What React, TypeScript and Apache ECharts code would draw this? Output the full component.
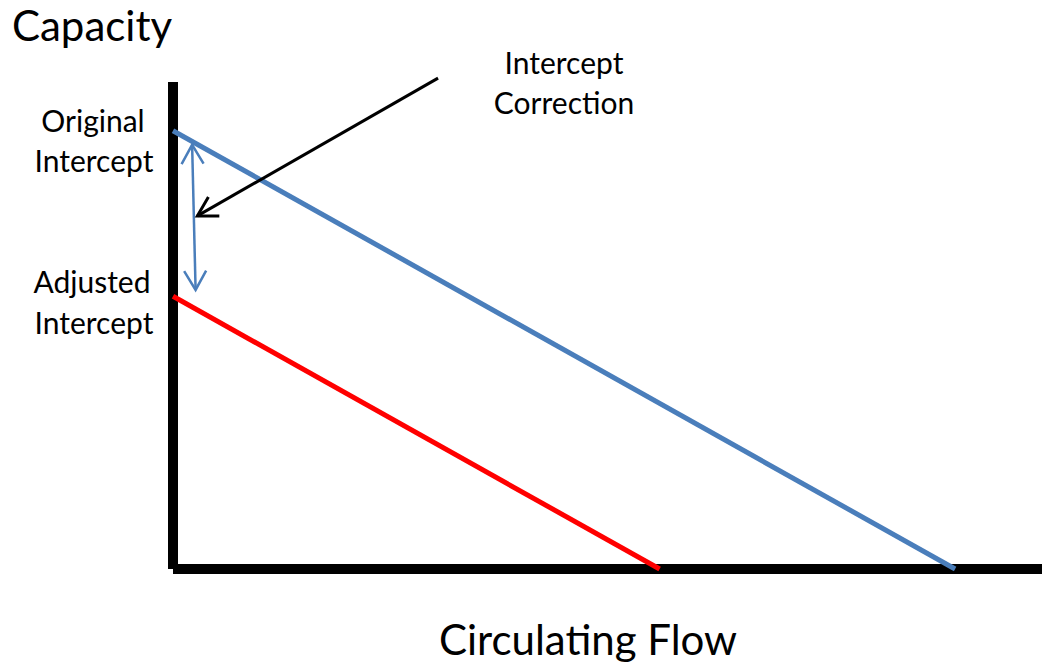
import React, { useEffect, useRef } from "react";
import * as echarts from "echarts";

// Original capacity line (flow, capacity)
const originalFlow = [0, 90];
const originalCapacity = [90, 0];
// Adjusted capacity line
const adjustedFlow = [0, 56];
const adjustedCapacity = [56, 0];
// Double-headed "correction" arrow: [x1, y1, x2, y2]
const correctionArrow = [2.2, 87.1, 2.6, 57.3];
// Pointer arrow from the label to the correction arrow: [x1, y1, x2, y2]
const pointerArrow = [30.5, 100.8, 2.8, 72.5];

const FONT = "Lato, 'Open Sans', sans-serif";
const BLUE = "#4A7EBB";
const RED = "#FF0000";

function chevron(tip: number[], from: number[], len: number, color: string, width: number) {
  const dx = from[0] - tip[0];
  const dy = from[1] - tip[1];
  const d = Math.sqrt(dx * dx + dy * dy) || 1;
  const ux = dx / d;
  const uy = dy / d;
  const a = (30 * Math.PI) / 180;
  const c = Math.cos(a);
  const s = Math.sin(a);
  const p1 = [tip[0] + len * (ux * c - uy * s), tip[1] + len * (ux * s + uy * c)];
  const p2 = [tip[0] + len * (ux * c + uy * s), tip[1] + len * (-ux * s + uy * c)];
  return {
    type: "polyline",
    shape: { points: [p1, tip, p2] },
    style: { stroke: color, lineWidth: width, fill: "none", lineJoin: "miter" },
  };
}

export default function App() {
  const ref = useRef<HTMLDivElement>(null);
  useEffect(() => {
    document.body.style.margin = "0";
    const chart = echarts.init(ref.current!, null, { renderer: "svg" });
    const arrowData = [
      { value: correctionArrow, color: BLUE, width: 2.5, both: true },
      { value: pointerArrow, color: "#000000", width: 3, both: false },
    ];
    const label = (text: string, x: number, y: number, size: number) => ({
      type: "text",
      x,
      y,
      style: { text, font: `${size}px ${FONT}`, fill: "#000", align: "center", verticalAlign: "middle" },
    });
    chart.setOption({
      animation: false,
      backgroundColor: "#ffffff",
      grid: { left: 173, right: 0, top: 82, bottom: 96 },
      xAxis: {
        type: "value",
        min: 0,
        max: 100,
        axisLine: { show: true, lineStyle: { color: "#000", width: 10, cap: "butt" } },
        axisTick: { show: false },
        axisLabel: { show: false },
        splitLine: { show: false },
      },
      yAxis: {
        type: "value",
        min: 0,
        max: 100,
        axisLine: { show: true, lineStyle: { color: "#000", width: 10, cap: "butt" } },
        axisTick: { show: false },
        axisLabel: { show: false },
        splitLine: { show: false },
      },
      series: [
        {
          type: "line",
          data: originalFlow.map((x, i) => [x, originalCapacity[i]]),
          showSymbol: false,
          lineStyle: { color: BLUE, width: 5 },
          z: 3,
        },
        {
          type: "line",
          data: adjustedFlow.map((x, i) => [x, adjustedCapacity[i]]),
          showSymbol: false,
          lineStyle: { color: RED, width: 5 },
          z: 3,
        },
        {
          type: "custom",
          clip: false,
          z: 4,
          data: arrowData,
          renderItem: (params: any, api: any) => {
            const item = arrowData[params.dataIndex];
            const v = item.value;
            const p0 = api.coord([v[0], v[1]]);
            const p1 = api.coord([v[2], v[3]]);
            const children: any[] = [
              {
                type: "line",
                shape: { x1: p0[0], y1: p0[1], x2: p1[0], y2: p1[1] },
                style: { stroke: item.color, lineWidth: item.width },
              },
              chevron(p1, p0, 22, item.color, item.width),
            ];
            if (item.both) children.push(chevron(p0, p1, 22, item.color, item.width));
            return { type: "group", children };
          },
        },
      ],
      graphic: [
        label("Capacity", 92, 25, 42),
        label("Original", 93, 120, 30),
        label("Intercept", 94, 160, 30),
        label("Adjusted", 92, 281, 30),
        label("Intercept", 94, 322, 30),
        label("Intercept", 564, 62, 30),
        label("Correction", 564, 102, 30),
        label("Circulating Flow", 588, 639, 42),
      ],
    });
    return () => chart.dispose();
  }, []);
  return <div ref={ref} style={{ position: "fixed", left: 0, top: 0, width: 1042, height: 665 }} />;
}
